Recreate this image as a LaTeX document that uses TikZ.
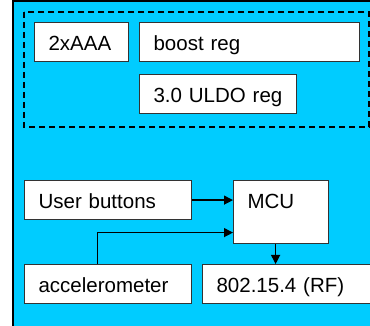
\documentclass[tikz,border=0pt]{standalone}
\usepackage{fontspec}
\setmainfont{Liberation Sans}
\usepackage{xcolor}
\definecolor{cBoard}{HTML}{00CCFF}
\definecolor{cEdge}{HTML}{333333}
\usetikzlibrary{positioning,arrows.meta}
\tikzset{
  node-box/.style={draw=cEdge,line width=1.2pt,fill=white,anchor=north west,
    minimum height=39pt,inner xsep=14pt,inner ysep=0pt,align=left,
    text height=21pt,text depth=4pt,font=\fontsize{20.5}{24}\selectfont},
  arrow/.style={-{Triangle[length=9pt,width=9pt]},line width=1.2pt,draw=black},
  group-power/.style={draw=black,dash pattern=on 6pt off 4pt,line width=1.5pt},
}

\begin{document}
\begin{tikzpicture}[x=1pt,y=-1pt]
  \useasboundingbox (0,0) rectangle (370,326);
  \clip (0,0) rectangle (370,326);
  % board
  \fill[cBoard] (13,1) rectangle (374,330);
  \draw[line width=1.2pt] (374,1) -- (13,1) -- (13,330);
  % power supply group
  \draw[group-power] (24,12) rectangle (369,127);
  \node[node-box,text width=66pt]  (aaa)   at (34,22)  {2xAAA};
  \node[node-box,text width=192pt] (boost) at (139,22) {boost reg};
  \node[node-box,text width=129pt] (uldo)  at (139,74) {3.0 ULDO reg};
  % signal path
  \node[node-box,text width=139pt] (ub)    at (24,180) {User buttons};
  \node[node-box,text width=67pt,minimum height=63pt,text depth=28pt]
                                   (mcu)   at (233,180) {MCU};
  \node[node-box,text width=139pt] (accel) at (24,264) {accelerometer};
  \node[node-box,text width=142pt] (rf)    at (202,264) {802.15.4 (RF)};
  \draw[arrow] (ub.east) -- (ub.east -| mcu.west);
  \draw[arrow] ([xshift=-10.5pt]accel.north) |- ([yshift=-20.5pt]mcu.west);
  \draw[arrow] ([xshift=-5.5pt]mcu.south) -- ([xshift=-5.5pt]mcu.south |- rf.north);
\end{tikzpicture}
\end{document}
